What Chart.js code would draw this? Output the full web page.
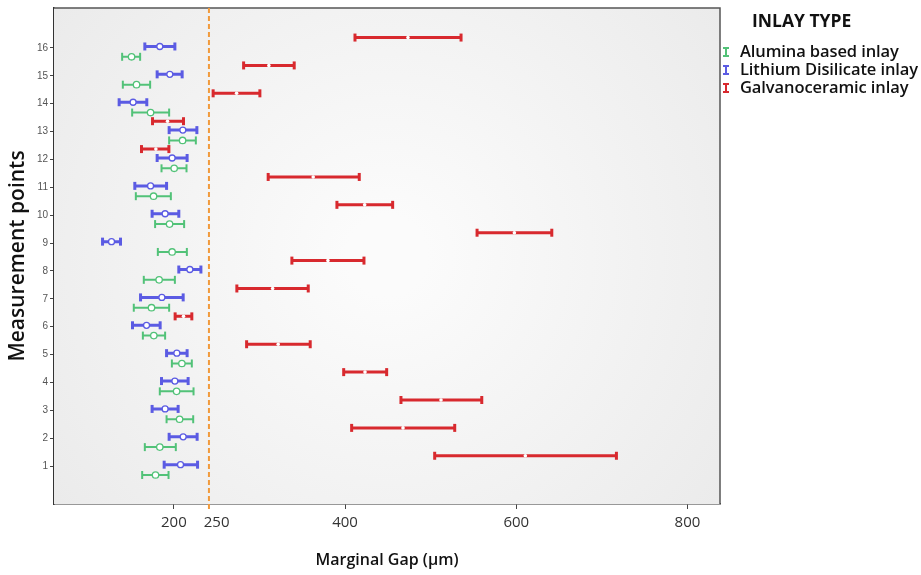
<!DOCTYPE html>
<html>
<head>
<meta charset="utf-8">
<script src="https://cdn.jsdelivr.net/npm/chart.js@4.4.1/dist/chart.umd.min.js"></script>
<style>
  html, body { margin: 0; padding: 0; background: #fff; }
  #wrap { position: relative; width: 921px; height: 575px; }
  #legend { position: absolute; left: 0; top: 0; font-family: "Open Sans", sans-serif; color: #111; }
  #legend .title { position: absolute; left: 752px; top: 8px; font-size: 17.5px; font-weight: 700; white-space: nowrap; }
  #legend .item { position: absolute; left: 740px; font-size: 16.5px; font-weight: 600; white-space: nowrap; line-height: 20px; letter-spacing: -0.1px; }
  #legend .ico { position: absolute; left: -17px; top: 6px; width: 6px; height: 10px; box-sizing: border-box;
    border-top: 2px solid currentColor; border-bottom: 2px solid currentColor;
    background: linear-gradient(currentColor, currentColor) center / 2px 100% no-repeat; }
</style>
</head>
<body>
<div id="wrap">
  <canvas id="gapChart" width="921" height="575"></canvas>
  <div id="legend">
    <div class="title">INLAY TYPE</div>
    <div class="item" style="top:41px"><span class="ico" style="color:#52c278"></span>Alumina based inlay</div>
    <div class="item" style="top:59px"><span class="ico" style="color:#5b5be3"></span>Lithium Disilicate inlay</div>
    <div class="item" style="top:77px"><span class="ico" style="color:#d8292e"></span>Galvanoceramic inlay</div>
  </div>
</div>
<script>
// measurement points 1..16
const points = [1, 2, 3, 4, 5, 6, 7, 8, 9, 10, 11, 12, 13, 14, 15, 16];

// Alumina based inlay (green): lower bound, mean, upper bound
const aluminaLow  = [163.0, 166.1, 191.5, 183.6, 197.7, 163.8, 153.2, 164.9, 181.3, 178.1, 155.6, 185.6, 194.5, 151.3, 140.4, 139.6];
const aluminaMean = [178.6, 183.6, 206.7, 203.2, 209.4, 176.6, 173.9, 182.8, 198.0, 195.0, 176.3, 200.4, 210.2, 172.8, 156.4, 150.6];
const aluminaHigh = [193.8, 202.3, 222.6, 223.0, 221.0, 189.8, 194.5, 201.2, 215.2, 212.0, 196.5, 214.8, 225.7, 194.5, 172.3, 160.6];

// Lithium Disilicate inlay (blue)
const lithiumLow  = [188.7, 194.5, 174.6, 185.6, 191.5, 151.7, 161.1, 205.8, 116.7, 174.6, 154.4, 180.5, 194.5, 136.1, 180.5, 166.1];
const lithiumMean = [207.8, 210.9, 189.8, 201.2, 203.5, 168.1, 186.0, 218.7, 127.2, 189.8, 172.8, 198.0, 210.5, 152.4, 195.3, 183.6];
const lithiumHigh = [227.7, 227.2, 205.0, 216.7, 215.5, 184.0, 210.9, 231.6, 137.7, 205.8, 191.5, 215.5, 226.9, 168.4, 209.7, 201.2];

// Galvanoceramic inlay (red)
const galvanoLow  = [504.7, 407.7, 465.3, 398.4, 285.0, 201.5, 273.6, 337.9, 554.2, 390.5, 310.2, 162.2, 175.1, 245.9, 281.5, 411.6];
const galvanoMean = [610.6, 467.7, 512.1, 423.3, 321.9, 211.3, 315.4, 380.0, 597.8, 422.9, 362.8, 179.0, 192.6, 273.3, 311.0, 473.5];
const galvanoHigh = [717.0, 528.1, 559.7, 448.6, 359.3, 221.0, 357.0, 422.1, 641.5, 455.6, 416.6, 194.2, 211.3, 300.5, 340.6, 535.5];

const xTicks = [200, 250, 400, 600, 800];
const refLine = 241; // dashed reference line, as drawn in the figure

// series styling (vertical offset inside each measurement point)
const series = [
  { label: 'Alumina based inlay', low: aluminaLow, mean: aluminaMean, high: aluminaHigh, color: '#52c278', offset: -0.32, width: 2, dot: 3.2, dotBorder: '#52c278', dotWidth: 1.3 },
  { label: 'Lithium Disilicate inlay', low: lithiumLow, mean: lithiumMean, high: lithiumHigh, color: '#5b5be3', offset: 0.05, width: 3, dot: 3, dotBorder: '#5b5be3', dotWidth: 1.3 },
  { label: 'Galvanoceramic inlay', low: galvanoLow, mean: galvanoMean, high: galvanoHigh, color: '#d8292e', offset: 0.37, width: 3, dot: 1.8, dotBorder: '#ffffff', dotWidth: 0 }
];

const datasets = [];
series.forEach(s => {
  // interval lines: low -> high, broken by an empty point
  datasets.push({
    label: s.label,
    order: 1,
    showLine: true,
    data: points.flatMap((p, i) => [
      { x: s.low[i], y: p + s.offset },
      { x: s.high[i], y: p + s.offset },
      { x: NaN, y: NaN }
    ]),
    borderColor: s.color,
    borderWidth: s.width,
    pointStyle: 'line',
    rotation: 90,
    pointRadius: 4,
    pointBorderColor: s.color,
    pointBorderWidth: s.width
  });
  // mean markers
  datasets.push({
    label: s.label + ' mean',
    order: 0,
    data: points.map((p, i) => ({ x: s.mean[i], y: p + s.offset })),
    pointStyle: 'circle',
    pointRadius: s.dot,
    pointBackgroundColor: '#ffffff',
    pointBorderColor: s.dotBorder,
    pointBorderWidth: s.dotWidth
  });
});

// gray plot background + frame + dashed line
const plotDecor = {
  id: 'plotDecor',
  beforeDatasetsDraw(chart) {
    const { ctx, chartArea: a, scales } = chart;
    ctx.save();
    const g = ctx.createRadialGradient((a.left + a.right) / 2, (a.top + a.bottom) / 2, 40,
      (a.left + a.right) / 2, (a.top + a.bottom) / 2, (a.right - a.left) * 0.62);
    g.addColorStop(0, '#fbfbfb');
    g.addColorStop(1, '#ebebeb');
    ctx.fillStyle = g;
    ctx.fillRect(a.left, a.top, a.right - a.left, a.bottom - a.top);
    ctx.strokeStyle = '#555';
    ctx.lineWidth = 1.5;
    ctx.beginPath();
    ctx.moveTo(a.left, a.top);
    ctx.lineTo(a.right, a.top);
    ctx.lineTo(a.right, a.bottom);
    ctx.stroke();
    const x = scales.x.getPixelForValue(refLine);
    ctx.strokeStyle = '#f19a3c';
    ctx.lineWidth = 2;
    ctx.setLineDash([5, 3]);
    ctx.beginPath();
    ctx.moveTo(x, a.top);
    ctx.lineTo(x, a.bottom + 7);
    ctx.stroke();
    ctx.restore();
  }
};

new Chart(document.getElementById('gapChart').getContext('2d'), {
  type: 'scatter',
  data: { datasets },
  options: {
    responsive: false,
    animation: false,
    layout: { padding: { top: 6, right: 201, bottom: 0, left: 0 } },
    plugins: { legend: { display: false }, tooltip: { enabled: false } },
    scales: {
      x: {
        type: 'linear', min: 60, max: 838,
        afterBuildTicks: axis => { axis.ticks = xTicks.map(v => ({ value: v })); },
        afterFit: axis => { axis.height = 71; },
        grid: {
          drawOnChartArea: false, tickLength: 5,
          tickColor: c => (c.tick && c.tick.value === 250 ? 'rgba(0,0,0,0)' : '#444')
        },
        border: { display: true, color: '#333', width: 1.5 },
        ticks: { font: { family: 'Open Sans', size: 15 }, color: '#333', padding: 5 },
        title: {
          display: true, text: 'Marginal Gap (μm)',
          font: { family: 'Open Sans', size: 16, weight: '600' }, color: '#111',
          padding: { top: 0, bottom: 5 }
        }
      },
      y: {
        type: 'linear', min: -0.36, max: 17.43,
        afterBuildTicks: axis => { axis.ticks = points.map(v => ({ value: v })); },
        afterFit: axis => { axis.width = 54; },
        grid: { drawOnChartArea: false, tickLength: 4, tickColor: '#444' },
        border: { display: true, color: '#333', width: 1.5 },
        ticks: { font: { family: 'Liberation Sans', size: 10 }, color: '#555', padding: 2 },
        title: {
          display: true, text: 'Measurement points',
          font: { family: 'Open Sans', size: 21, weight: '600' }, color: '#111',
          padding: { top: 5, bottom: 0 }
        }
      }
    }
  },
  plugins: [plotDecor]
});
</script>
</body>
</html>
